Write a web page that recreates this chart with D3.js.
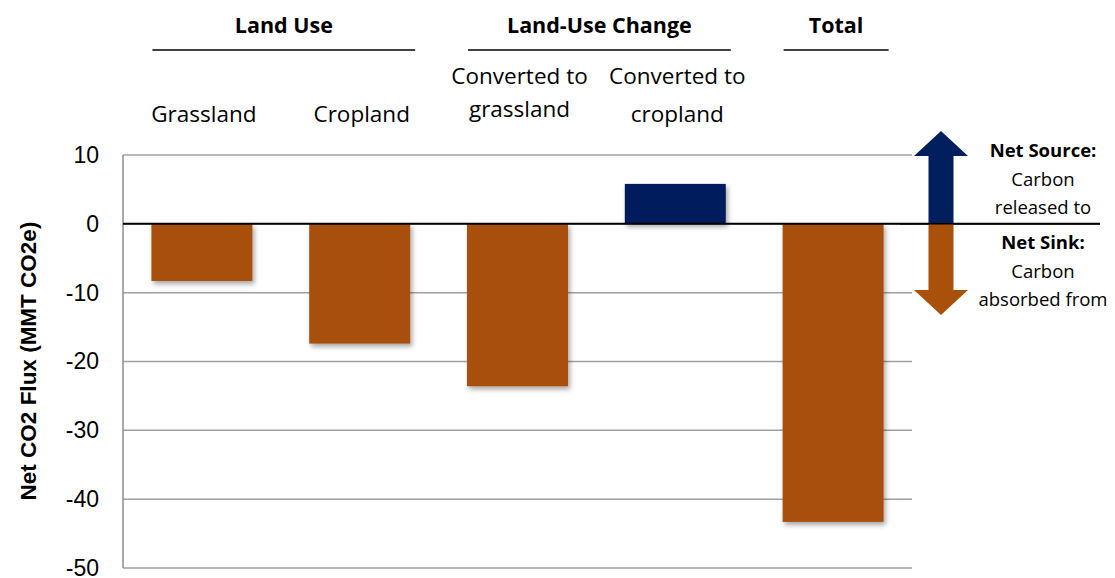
<!DOCTYPE html>
<html>
<head>
<meta charset="utf-8">
<script src="https://cdn.jsdelivr.net/npm/d3@7"></script>
<style>
  body { margin: 0; background: #fff; }
  svg { display: block; }
</style>
</head>
<body>
<div id="chart"></div>
<script>
// data
const categories = ['Grassland', 'Cropland', 'Converted to grassland', 'Converted to cropland', 'Total'];
const categoryLines = [['Grassland'], ['Cropland'], ['Converted to', 'grassland'], ['Converted to', 'cropland'], []];
const fluxValues = [-8.3, -17.4, -23.6, 5.8, -43.3];
const groups = [
  {name: 'Land Use', from: 0, to: 1},
  {name: 'Land-Use Change', from: 2, to: 3},
  {name: 'Total', from: 4, to: 4}
];
const yTicks = [10, 0, -10, -20, -30, -40, -50];
const sourceLines = ['Net Source:', 'Carbon', 'released to'];
const sinkLines = ['Net Sink:', 'Carbon', 'absorbed from'];

const width = 1115, height = 578;
const margin = {top: 155, right: 203, bottom: 10, left: 123};
const orange = '#a9500a', navy = '#001f5c';
const bodyFont = "'Open Sans', Carlito, Lato, sans-serif";
const arial = "'Liberation Sans', Arial, sans-serif";

const svg = d3.select('#chart').append('svg')
  .attr('width', width)
  .attr('height', height);

const defs = svg.append('defs');
const shadow = defs.append('filter').attr('id', 'shadow')
  .attr('x', '-20%').attr('y', '-20%').attr('width', '140%').attr('height', '140%');
shadow.append('feDropShadow')
  .attr('dx', 2).attr('dy', 3).attr('stdDeviation', 2.5)
  .attr('flood-color', '#000').attr('flood-opacity', 0.35);

const x = d3.scaleBand()
  .domain(categories)
  .range([margin.left, width - margin.right])
  .paddingInner(0.36)
  .paddingOuter(0.18);

const y = d3.scaleLinear()
  .domain([-50, 10])
  .range([568, 155]);

// gridlines
svg.append('g')
  .selectAll('line')
  .data(yTicks)
  .enter().append('line')
  .attr('x1', margin.left)
  .attr('x2', width - margin.right)
  .attr('y1', d => y(d))
  .attr('y2', d => y(d))
  .attr('stroke', '#a0a0a0')
  .attr('stroke-width', 1.5);

// y axis line + labels
svg.append('line')
  .attr('x1', margin.left).attr('x2', margin.left)
  .attr('y1', y(10)).attr('y2', y(-50))
  .attr('stroke', '#8c8c8c').attr('stroke-width', 1.5);

const yAxis = d3.axisLeft(y).tickValues(yTicks).tickSize(0).tickPadding(24)
  .tickFormat(d => String(d));
svg.append('g')
  .attr('transform', `translate(${margin.left},0)`)
  .call(yAxis)
  .call(g => g.select('.domain').remove())
  .selectAll('text')
  .attr('font-family', arial)
  .attr('font-size', 23)
  .attr('fill', '#000');

svg.append('text')
  .attr('transform', `translate(36,361) rotate(-90)`)
  .attr('text-anchor', 'middle')
  .attr('font-family', arial)
  .attr('font-weight', 'bold')
  .attr('font-size', 22.5)
  .text('Net CO2 Flux (MMT CO2e)');

// bars
svg.append('g')
  .selectAll('rect')
  .data(categories)
  .enter().append('rect')
  .attr('x', d => x(d))
  .attr('width', x.bandwidth())
  .attr('y', (d, i) => y(Math.max(0, fluxValues[i])))
  .attr('height', (d, i) => Math.abs(y(fluxValues[i]) - y(0)))
  .attr('fill', (d, i) => fluxValues[i] < 0 ? orange : navy)
  .attr('filter', 'url(#shadow)');

// zero line
svg.append('line')
  .attr('x1', margin.left).attr('x2', 1100)
  .attr('y1', y(0)).attr('y2', y(0))
  .attr('stroke', '#000').attr('stroke-width', 2);

// category labels
const catLabels = svg.append('g')
  .selectAll('text')
  .data(categories)
  .enter().append('text')
  .attr('text-anchor', 'middle')
  .attr('font-family', bodyFont)
  .attr('font-size', 22.5)
  .attr('x', d => x(d) + x.bandwidth() / 2);
catLabels.each(function(d, i) {
  const lines = categoryLines[i];
  const t = d3.select(this);
  const cx = x(d) + x.bandwidth() / 2;
  if (lines.length === 1) {
    t.append('tspan').attr('x', cx + 2).attr('y', 122).text(lines[0]);
  } else if (lines.length === 2) {
    t.append('tspan').attr('x', cx + 2).attr('y', 84).text(lines[0]);
    t.append('tspan').attr('x', cx + 2).attr('y', i === 2 ? 117 : 122).text(lines[1]);
  }
});

// group headers
const step = x.step();
groups.forEach(gr => {
  const x0 = x(categories[gr.from]) + 1;
  const x1 = x(categories[gr.to]) + x.bandwidth() + 5;
  const cx = (x0 + x1) / 2;
  svg.append('text')
    .attr('x', cx)
    .attr('y', 33)
    .attr('text-anchor', 'middle')
    .attr('font-family', bodyFont)
    .attr('font-weight', 'bold')
    .attr('font-size', 21.5)
    .text(gr.name);
  svg.append('line')
    .attr('x1', x0).attr('x2', x1)
    .attr('y1', 50).attr('y2', 50)
    .attr('stroke', '#000').attr('stroke-width', 1.5);
});

// source / sink arrow
const ax = 941, shaftW = 25, headW = 54, headH = 25;
const aTop = 131, aBot = 315, mid = y(0);
svg.append('path')
  .attr('d', `M${ax},${aTop} L${ax + headW / 2},${aTop + headH} L${ax + shaftW / 2},${aTop + headH}
    L${ax + shaftW / 2},${mid} L${ax - shaftW / 2},${mid} L${ax - shaftW / 2},${aTop + headH}
    L${ax - headW / 2},${aTop + headH} Z`)
  .attr('fill', navy);
svg.append('path')
  .attr('d', `M${ax},${aBot} L${ax + headW / 2},${aBot - headH} L${ax + shaftW / 2},${aBot - headH}
    L${ax + shaftW / 2},${mid} L${ax - shaftW / 2},${mid} L${ax - shaftW / 2},${aBot - headH}
    L${ax - headW / 2},${aBot - headH} Z`)
  .attr('fill', orange);

// redraw zero line over the arrow
svg.append('line')
  .attr('x1', 900).attr('x2', 1100)
  .attr('y1', mid).attr('y2', mid)
  .attr('stroke', '#000').attr('stroke-width', 1.5);

function noteBlock(lines, top) {
  svg.append('g')
    .selectAll('text')
    .data(lines)
    .enter().append('text')
    .attr('x', 1043)
    .attr('y', (d, i) => top + i * 28.5)
    .attr('text-anchor', 'middle')
    .attr('font-family', bodyFont)
    .attr('font-size', 18.5)
    .attr('font-weight', (d, i) => i === 0 ? 'bold' : 'normal')
    .text(d => d);
}
noteBlock(sourceLines, 157);
noteBlock(sinkLines, 249);
</script>
</body>
</html>
